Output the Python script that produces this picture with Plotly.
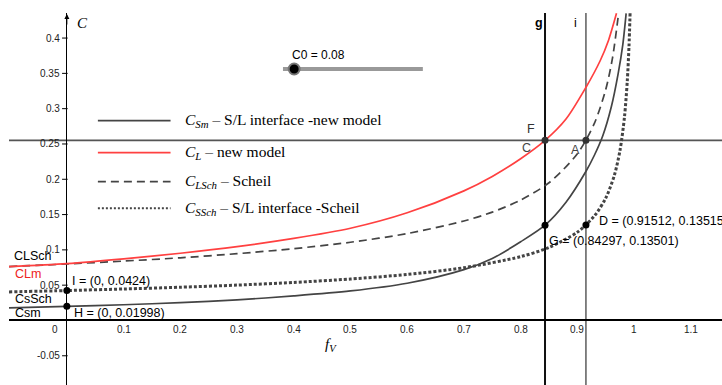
import plotly.graph_objects as go

# ---------------- data ----------------
# C_L new model (red)
f_lm = [-0.102, 0.0, 0.1, 0.2, 0.3, 0.4, 0.5, 0.6, 0.7, 0.75, 0.8, 0.843, 0.88, 0.915, 0.94, 0.955, 0.969]
c_lm = [0.0763, 0.0805, 0.0872, 0.0952, 0.1046, 0.1162, 0.1306, 0.1525, 0.1836, 0.2040, 0.2290, 0.2550,
        0.2853, 0.3300, 0.3675, 0.3970, 0.4350]
# C_Sm new model (solid dark)
f_sm = [-0.102, 0.0, 0.1, 0.2, 0.3, 0.4, 0.5, 0.6, 0.7, 0.75, 0.8, 0.843, 0.88, 0.915, 0.93, 0.945,
        0.96, 0.972, 0.98, 0.986]
c_sm = [0.0178, 0.0200, 0.0223, 0.0253, 0.0292, 0.0348, 0.0418, 0.0527, 0.0720, 0.0878, 0.1115, 0.1350,
        0.1675, 0.2110, 0.2340, 0.2620, 0.3030, 0.3500, 0.3900, 0.4350]
# C_LSch Scheil liquid (dashed)
f_lsch = [-0.102, 0.0, 0.1, 0.2, 0.3, 0.4, 0.5, 0.6, 0.7, 0.75, 0.8, 0.85, 0.9, 0.93, 0.95, 0.962, 0.973]
c_lsch = [0.0764, 0.0800, 0.0841, 0.0888, 0.0946, 0.1017, 0.1108, 0.1231, 0.1409, 0.1535, 0.1705, 0.1951,
          0.2361, 0.2792, 0.3270, 0.3720, 0.4370]
# C_SSch Scheil solid (dotted)
f_ssch = [-0.102, 0.0, 0.1, 0.2, 0.3, 0.4, 0.5, 0.6, 0.7, 0.8, 0.85, 0.9, 0.93, 0.95, 0.965, 0.975,
          0.983, 0.988, 0.991, 0.993]
c_ssch = [0.0405, 0.0424, 0.0446, 0.0471, 0.0501, 0.0539, 0.0587, 0.0652, 0.0747, 0.0904, 0.1034, 0.1251,
          0.1480, 0.1733, 0.2050, 0.2401, 0.2878, 0.3389, 0.3880, 0.4367]

x_g = 0.84297
x_i = 0.91512
c_hline = 0.2551
C0 = 0.08
slider_min, slider_max = 0.0, 1.0

pt_names = ["H", "I", "G", "D", "F", "A"]
pt_x = [0.0, 0.0, 0.84297, 0.91512, 0.84297, 0.91512]
pt_y = [0.01998, 0.0424, 0.13501, 0.13515, 0.2551, 0.2551]
pt_col = ["#000000", "#000000", "#000000", "#000000", "#333333", "#333333"]

x_tick_vals = [0.1, 0.2, 0.3, 0.4, 0.5, 0.6, 0.7, 0.8, 0.9, 1.0, 1.1]
x_tick_text = ["0.1", "0.2", "0.3", "0.4", "0.5", "0.6", "0.7", "0.8", "0.9", "1", "1.1"]
y_tick_vals = [-0.05, 0.05, 0.1, 0.15, 0.2, 0.25, 0.3, 0.35, 0.4]
y_tick_text = ["-0.05", "0.05", "0.1", "0.15", "0.2", "0.25", "0.3", "0.35", "0.4"]

legend_text = [
    "<i>C</i><sub><i>Sm</i></sub> \u2013 S/L interface -new model",
    "<i>C</i><sub><i>L</i></sub> \u2013 new model",
    "<i>C</i><sub><i>LSch</i></sub> \u2013 Scheil",
    "<i>C</i><sub><i>SSch</i></sub> \u2013 S/L interface -Scheil",
]

X_RANGE = [-0.102, 1.155]
Y_RANGE = [-0.0914, 0.4355]

RED = "#ff4040"
DARK = "#444444"
SANS = "Liberation Sans, Arial, sans-serif"
SERIF = "Liberation Serif, Times New Roman, serif"

fig = go.Figure()

# reference lines
fig.add_hline(y=c_hline, line=dict(color="#555555", width=1.6), layer="below")
fig.add_vline(x=x_g, line=dict(color="#111111", width=2), layer="below")
fig.add_vline(x=x_i, line=dict(color="#666666", width=1.6), layer="below")

# curves
fig.add_trace(go.Scatter(x=f_ssch, y=c_ssch, mode="lines",
                         line=dict(color="#444444", width=3, dash="3px,2px", shape="spline", smoothing=0.8)))
fig.add_trace(go.Scatter(x=f_lsch, y=c_lsch, mode="lines",
                         line=dict(color=DARK, width=1.7, dash="8px,5px", shape="spline", smoothing=0.8)))
fig.add_trace(go.Scatter(x=f_sm, y=c_sm, mode="lines",
                         line=dict(color=DARK, width=1.7, shape="spline", smoothing=0.8)))
fig.add_trace(go.Scatter(x=f_lm, y=c_lm, mode="lines",
                         line=dict(color=RED, width=1.7, shape="spline", smoothing=0.8)))

# y-axis tick marks
fig.add_trace(go.Scatter(x=[-0.0035] * len(y_tick_vals), y=y_tick_vals, mode="markers",
                         marker=dict(symbol="line-ew", size=4, line=dict(color="#000", width=1))))

# points
fig.add_trace(go.Scatter(x=pt_x, y=pt_y, mode="markers",
                         marker=dict(size=7, color=pt_col, line=dict(width=0))))

# slider
track_x0, track_x1, track_y = 0.381, 0.6276, 0.3562
fig.add_trace(go.Scatter(x=[track_x0, track_x1], y=[track_y, track_y], mode="lines",
                         line=dict(color="#999999", width=4)))
knob_x = track_x0 + (C0 - slider_min) / (slider_max - slider_min) * (track_x1 - track_x0)
fig.add_trace(go.Scatter(x=[knob_x], y=[track_y], mode="markers",
                         marker=dict(size=11, color="#000000", line=dict(color="#777777", width=2))))

# legend samples
leg_x0, leg_x1, leg_tx = 0.0547, 0.1828, 0.204
leg_rows = [0.283, 0.2377, 0.1966, 0.1589]
leg_styles = [dict(color=DARK, width=1.7), dict(color=RED, width=1.7),
              dict(color=DARK, width=1.7, dash="8px,5px"), dict(color="#444444", width=2, dash="2px,2px")]
for yy, st, tx in zip(leg_rows, leg_styles, legend_text):
    fig.add_trace(go.Scatter(x=[leg_x0, leg_x1], y=[yy, yy], mode="lines", line=st))
    fig.add_annotation(x=leg_tx, y=yy, text=tx, showarrow=False, xanchor="left", yanchor="middle",
                       font=dict(family=SERIF, size=15.5, color="#000"))

annotations = []
# tick labels
for v, t in zip(x_tick_vals, x_tick_text):
    annotations.append(dict(x=v, y=0, text=t, showarrow=False, xanchor="center", yanchor="middle",
                            yshift=-9, font=dict(family=SANS, size=10, color="#222")))
annotations.append(dict(x=0, y=0, text="0", showarrow=False, xanchor="right", yanchor="middle",
                        xshift=-7, yshift=-9, font=dict(family=SANS, size=10, color="#222")))
for v, t in zip(y_tick_vals, y_tick_text):
    annotations.append(dict(x=0, y=v, text=t, showarrow=False, xanchor="right", yanchor="middle",
                            xshift=-5, font=dict(family=SANS, size=10, color="#222")))

# axis labels
annotations.append(dict(x=0.028, y=0.4218, text="<i>C</i>", showarrow=False, xanchor="center",
                        yanchor="middle", font=dict(family=SERIF, size=15, color="#000")))
annotations.append(dict(x=0.4655, y=-0.0347, text="<i>f</i><sub><i>V</i></sub>", showarrow=False,
                        xanchor="center", yanchor="middle", font=dict(family=SERIF, size=15, color="#000")))
# y axis arrow
annotations.append(dict(x=0, y=0.434, ax=0, ay=12, showarrow=True, arrowhead=2, arrowsize=1,
                        arrowwidth=1, arrowcolor="#000", text=""))

# curve labels
lab = [
    ("CLSch", -0.097, 0.0914, "#000"),
    ("CLm", -0.095, 0.0659, "#ee2222"),
    ("CsSch", -0.095, 0.0305, "#000"),
    ("Csm", -0.095, 0.0106, "#000"),
    ("I = (0, 0.0424)", 0.0053, 0.056, "#000"),
    ("H = (0, 0.01998)", 0.0088, 0.0106, "#000"),
    ("D = (0.91512, 0.13515)", 0.934, 0.141, "#000"),
    ("G = (0.84297, 0.13501)", 0.846, 0.1126, "#000"),
]
for t, x, y, c in lab:
    annotations.append(dict(x=x, y=y, text=t, showarrow=False, xanchor="left", yanchor="middle",
                            font=dict(family=SANS, size=12.5, color=c)))
lab_c = [("F", 0.818, 0.2712, "#333"), ("C", 0.811, 0.2443, "#444"), ("A", 0.896, 0.2415, "#444"),
         ("<b>g</b>", 0.832, 0.4214, "#000"), ("i", 0.897, 0.4214, "#000")]
for t, x, y, c in lab_c:
    annotations.append(dict(x=x, y=y, text=t, showarrow=False, xanchor="center", yanchor="middle",
                            font=dict(family=SANS, size=12.5, color=c)))
# slider label
annotations.append(dict(x=track_x0 + 0.012, y=0.3765, text="C0 = 0.08", showarrow=False, xanchor="left",
                        yanchor="middle", font=dict(family=SANS, size=12, color="#000")))

for a in annotations:
    fig.add_annotation(**a)

fig.update_layout(
    width=722, height=385, autosize=False,
    margin=dict(l=9, r=0, t=13, b=0, pad=0),
    paper_bgcolor="white", plot_bgcolor="white",
    showlegend=False,
    xaxis=dict(range=X_RANGE, showgrid=False, showticklabels=False, ticks="", showline=False,
               zeroline=True, zerolinecolor="#000", zerolinewidth=1.2, fixedrange=True),
    yaxis=dict(range=Y_RANGE, showgrid=False, showticklabels=False, ticks="", showline=False,
               zeroline=True, zerolinecolor="#000", zerolinewidth=1.5, fixedrange=True),
)

fig.write_html("out.html", config={"displayModeBar": False},
               post_script="document.body.style.margin='0';document.body.style.overflow='hidden';")
